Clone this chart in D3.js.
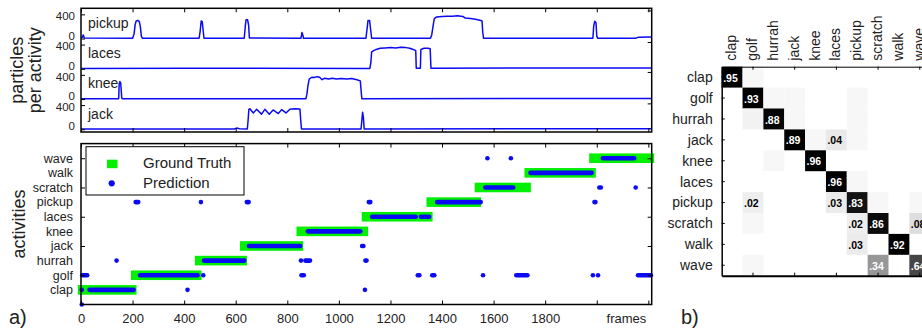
<!DOCTYPE html>
<html>
<head>
<meta charset="utf-8">
<script src="https://cdn.jsdelivr.net/npm/d3@7"></script>
<style>
  body { margin: 0; background: #fff; }
  svg { display: block; font-family: "Liberation Sans", Arial, sans-serif; }
</style>
</head>
<body>
<div id="chart"></div>
<script>
// ---- data ----
const activities = ["clap", "golf", "hurrah", "jack", "knee", "laces", "pickup", "scratch", "walk", "wave"];
const frameTicks = [0, 200, 400, 600, 800, 1000, 1200, 1400, 1600, 1800, 2000, 2200];
const activityTicks = [2, 4, 6, 8, 10];

// ground truth segments (frames), one per activity, in activity order
const gtStart = [7, 213, 461, 636, 855, 1108, 1359, 1546, 1739, 1990];
const gtEnd = [196, 448, 624, 842, 1094, 1344, 1532, 1725, 1977, 2203];

// predicted runs: [activity index (0 = none, 1 = clap ...), first frame, last frame]
const predRuns = [
  [0, 3, 3],
  [1, 3, 3], [1, 33, 204], [1, 413, 413], [1, 1101, 1101],
  [2, 5, 24], [2, 229, 452], [2, 474, 474], [2, 855, 864], [2, 1306, 1312], [2, 1362, 1370],
  [2, 1559, 1559], [2, 1688, 1731], [2, 1985, 1985], [2, 2005, 2005], [2, 2160, 2210],
  [3, 138, 138], [3, 477, 633], [3, 853, 853], [3, 870, 888], [3, 1103, 1107],
  [4, 651, 850], [4, 1090, 1095],
  [5, 880, 1083],
  [6, 1129, 1298], [6, 1318, 1350],
  [7, 212, 222], [7, 465, 465], [7, 643, 650], [7, 1116, 1122], [7, 1381, 1550], [7, 1991, 1995],
  [8, 1568, 1676], [8, 2010, 2016], [8, 2151, 2151],
  [9, 1743, 1980],
  [10, 1576, 1576], [10, 1667, 1667], [10, 2024, 2145]
];

// particles per activity: [frame, particles]
const signalNames = ["pickup", "laces", "knee", "jack"];
const signalBase = [1500, 1000, 500, 0];
const pickupSignal = [[0, 10], [5, 20], [9, 60], [13, 10], [200, 5], [206, 80], [210, 230], [214, 290], [220, 300],
  [226, 280], [230, 200], [234, 40], [238, 5], [458, 5], [462, 120], [466, 290], [470, 280], [474, 120], [477, 5],
  [633, 5], [637, 200], [640, 310], [646, 310], [650, 220], [653, 10], [853, 5], [857, 100], [860, 60], [863, 5],
  [1105, 5], [1109, 150], [1113, 300], [1119, 300], [1123, 150], [1127, 5], [1355, 5], [1360, 60], [1365, 200],
  [1370, 330], [1378, 355], [1400, 365], [1420, 370], [1440, 368], [1460, 375], [1480, 365], [1490, 340],
  [1510, 330], [1530, 320], [1550, 300], [1555, 290], [1558, 100], [1561, 5], [1985, 5], [1988, 200],
  [1992, 285], [1997, 260], [2000, 40], [2003, 5], [2150, 5], [2160, 20], [2213, 25]];
const lacesSignal = [[0, 5], [400, 10], [1120, 5], [1124, 100], [1127, 280], [1135, 300], [1145, 320], [1160, 340],
  [1180, 345], [1200, 350], [1220, 345], [1240, 355], [1260, 350], [1275, 340], [1288, 320], [1298, 300],
  [1300, 10], [1316, 10], [1318, 320], [1330, 340], [1345, 340], [1354, 330], [1357, 10], [2213, 15]];
const kneeSignal = [[0, 5], [146, 5], [148, 240], [151, 290], [154, 260], [158, 20], [160, 5], [872, 5], [876, 80],
  [880, 220], [885, 330], [895, 360], [905, 355], [915, 370], [925, 360], [935, 320], [945, 345], [960, 330],
  [975, 345], [990, 330], [1010, 340], [1030, 330], [1050, 340], [1070, 320], [1083, 300], [1086, 150],
  [1089, 5], [2213, 10]];
const jackSignal = [[0, 5], [595, 5], [603, 20], [615, 10], [645, 5], [648, 150], [651, 330], [655, 340],
  [668, 270], [681, 330], [700, 250], [713, 330], [730, 250], [745, 320], [765, 260], [778, 325], [795, 270],
  [810, 330], [829, 340], [849, 335], [852, 150], [855, 5], [1086, 5], [1089, 150], [1092, 280], [1095, 200],
  [1098, 5], [2213, 10]];
const signals = [pickupSignal, lacesSignal, kneeSignal, jackSignal];
const rightTicks = [428, 948, 1443, 1965];

// confusion matrix, rows = true activity, columns = predicted
const confusion = [
  [.95, .01, 0, 0, 0, 0, 0, 0, 0, 0],
  [0, .93, .01, .01, 0, 0, .01, 0, 0, 0],
  [0, .015, .88, .01, 0, 0, .01, 0, 0, 0],
  [0, 0, 0, .89, .01, .04, .01, 0, 0, 0],
  [0, 0, .01, 0, .96, 0, 0, 0, 0, 0],
  [0, 0, 0, 0, 0, .96, .01, 0, 0, 0],
  [0, .02, 0, 0, 0, .03, .83, .01, 0, .01],
  [0, .01, 0, 0, 0, 0, .02, .86, 0, .08],
  [0, 0, 0, 0, 0, 0, .03, 0, .92, 0],
  [0, .01, 0, 0, 0, 0, 0, .34, 0, .64]
];

// ---- layout ----
const W = 922, H = 328;
const blue = "#0a0af5", green = "#00f000", textColor = "#222";

const svg = d3.select("#chart").append("svg").attr("width", W).attr("height", H);

const x = d3.scaleLinear().domain([0, 2213]).range([81, 651.7]);
const yTop = d3.scaleLinear().domain([-45, 2000]).range([132, 8.3]);
const yAct = d3.scaleLinear().domain([0, 11]).range([304.5, 143.6]);

function styleAxis(g, size) {
  g.select(".domain").remove();
  g.selectAll(".tick line").attr("stroke", "#000").attr("stroke-width", 1);
  g.selectAll("text").attr("fill", textColor).style("font-size", size + "px");
}

function frame(y0, y1) {
  svg.append("rect")
    .attr("x", x.range()[0]).attr("y", y1)
    .attr("width", x.range()[1] - x.range()[0]).attr("height", y0 - y1)
    .attr("fill", "none").attr("stroke", "#000").attr("stroke-width", 1.5);
}

// ---- top panel: particles per activity ----
svg.append("clipPath").attr("id", "clipTop").append("rect")
  .attr("x", x.range()[0]).attr("y", yTop.range()[1])
  .attr("width", x.range()[1] - x.range()[0]).attr("height", yTop.range()[0] - yTop.range()[1]);

const topG = svg.append("g").attr("clip-path", "url(#clipTop)");
signals.forEach((s, i) => {
  const line = d3.line().x(d => x(d[0])).y(d => yTop(d[1] + signalBase[i]));
  topG.append("path").datum(s).attr("d", line)
    .attr("fill", "none").attr("stroke", blue).attr("stroke-width", 1.5)
    .attr("stroke-linejoin", "round");
});

signalNames.forEach((name, i) => {
  svg.append("text")
    .attr("x", x(0) + 7).attr("y", yTop(signalBase[i] + 175))
    .attr("fill", textColor).style("font-size", "14px").text(name);
});

const topLeftTicks = [];
signalBase.forEach(b => { topLeftTicks.push(b, b + 400); });
svg.append("g").attr("transform", `translate(${x.range()[0]},0)`)
  .call(d3.axisLeft(yTop).tickValues(topLeftTicks).tickFormat(v => (v % 500) + "")
    .tickSizeInner(-4).tickSizeOuter(0).tickPadding(6))
  .call(g => styleAxis(g, 11.5))
  // nudge the crowded 0 / 400 labels apart, as in the original
  .call(g => g.selectAll(".tick text").attr("y", v => (v % 500 === 0 ? -3 : 1.5)));
svg.append("g").attr("transform", `translate(${x.range()[1]},0)`)
  .call(d3.axisRight(yTop).tickValues(rightTicks).tickFormat("").tickSizeInner(-4).tickSizeOuter(0))
  .call(g => styleAxis(g, 12));
svg.append("g").attr("transform", `translate(0,${yTop.range()[0]})`)
  .call(d3.axisBottom(x).tickValues(frameTicks).tickFormat("").tickSizeInner(-4).tickSizeOuter(0))
  .call(g => styleAxis(g, 12));
svg.append("g").attr("transform", `translate(0,${yTop.range()[1]})`)
  .call(d3.axisTop(x).tickValues(frameTicks).tickFormat("").tickSizeInner(-4).tickSizeOuter(0))
  .call(g => styleAxis(g, 12));
frame(yTop.range()[0], yTop.range()[1]);

svg.append("text")
  .attr("transform", `translate(23,${(yTop.range()[0] + yTop.range()[1]) / 2}) rotate(-90)`)
  .attr("text-anchor", "middle").attr("fill", textColor).style("font-size", "18px")
  .text("particles");
svg.append("text")
  .attr("transform", `translate(41,${(yTop.range()[0] + yTop.range()[1]) / 2}) rotate(-90)`)
  .attr("text-anchor", "middle").attr("fill", textColor).style("font-size", "18px")
  .text("per activity");

// ---- bottom panel: activities ----
const pad = 5;
svg.append("g").selectAll("rect")
  .data(activities)
  .join("rect")
  .attr("x", (d, i) => x(gtStart[i]) - pad)
  .attr("width", (d, i) => x(gtEnd[i]) - x(gtStart[i]) + 2 * pad)
  .attr("y", (d, i) => yAct(i + 1) - 4.8)
  .attr("height", 9.6)
  .attr("fill", green);

svg.append("g").selectAll("line")
  .data(predRuns)
  .join("line")
  .attr("x1", d => x(d[1])).attr("x2", d => x(d[2]))
  .attr("y1", d => yAct(d[0])).attr("y2", d => yAct(d[0]))
  .attr("stroke", blue).attr("stroke-width", 4.6).attr("stroke-linecap", "round");

svg.append("g").attr("transform", `translate(0,${yAct.range()[0]})`)
  .call(d3.axisBottom(x).tickValues(frameTicks)
    .tickFormat(v => (v <= 1800 ? v : ""))
    .tickSizeInner(-4).tickSizeOuter(0).tickPadding(9))
  .call(g => styleAxis(g, 13));
svg.append("g").attr("transform", `translate(0,${yAct.range()[1]})`)
  .call(d3.axisTop(x).tickValues(frameTicks).tickFormat("").tickSizeInner(-4).tickSizeOuter(0))
  .call(g => styleAxis(g, 13));
svg.append("g").attr("transform", `translate(${x.range()[0]},0)`)
  .call(d3.axisLeft(yAct).tickValues(activityTicks).tickFormat("").tickSizeInner(-4).tickSizeOuter(0))
  .call(g => styleAxis(g, 12));
svg.append("g").attr("transform", `translate(${x.range()[1]},0)`)
  .call(d3.axisRight(yAct).tickValues(activityTicks).tickFormat("").tickSizeInner(-4).tickSizeOuter(0))
  .call(g => styleAxis(g, 12));
frame(yAct.range()[0], yAct.range()[1]);

svg.append("g").selectAll("text")
  .data(activities)
  .join("text")
  .attr("x", x.range()[0] - 8)
  .attr("y", (d, i) => yAct(i + 1))
  .attr("dy", "0.35em")
  .attr("text-anchor", "end")
  .attr("fill", textColor).style("font-size", "12.5px")
  .text(d => d);

svg.append("text")
  .attr("x", x(2115)).attr("y", 323)
  .attr("text-anchor", "middle").attr("fill", textColor).style("font-size", "13px")
  .text("frames");

svg.append("text")
  .attr("transform", `translate(25,${yAct(5.5)}) rotate(-90)`)
  .attr("text-anchor", "middle").attr("fill", textColor).style("font-size", "18px")
  .text("activities");

// legend
const legend = svg.append("g").attr("transform", "translate(86,146.7)");
legend.append("rect").attr("width", 158).attr("height", 48.3)
  .attr("fill", "#fff").attr("stroke", "#000").attr("stroke-width", 1);
legend.append("rect").attr("x", 21).attr("y", 13).attr("width", 10.5).attr("height", 8.5).attr("fill", green);
legend.append("circle").attr("cx", 25.7).attr("cy", 36.6).attr("r", 3.1).attr("fill", blue);
legend.append("text").attr("x", 57).attr("y", 21.6).attr("fill", textColor)
  .style("font-size", "15px").text("Ground Truth");
legend.append("text").attr("x", 57).attr("y", 41.6).attr("fill", textColor)
  .style("font-size", "15px").text("Prediction");

svg.append("text").attr("x", 9).attr("y", 324).attr("fill", textColor)
  .style("font-size", "20px").text("a)");

// ---- confusion matrix ----
const cx = d3.scaleBand().domain(activities).range([721.7, 721.7 + 208.5]);
const cy = d3.scaleBand().domain(activities).range([66.7, 66.7 + 209]);
const gray = d3.scaleLinear().domain([0, 0.02, 0.9]).range(["#ffffff", "#eeeeee", "#000000"]).clamp(true);
const fmt = v => d3.format(".2f")(v).replace(/^0/, "");

const cells = [];
confusion.forEach((row, r) => row.forEach((v, c) => {
  if (v > 0) cells.push({ r: activities[r], c: activities[c], v });
}));

const cm = svg.append("g");
cm.selectAll("rect").data(cells).join("rect")
  .attr("x", d => cx(d.c)).attr("y", d => cy(d.r))
  .attr("width", cx.bandwidth()).attr("height", cy.bandwidth())
  .attr("fill", d => gray(d.v));
cm.selectAll("text").data(cells.filter(d => d.v >= 0.02)).join("text")
  .attr("x", d => cx(d.c) + 1.5).attr("y", d => cy(d.r) + 15)
  .attr("fill", d => (d.v > 0.3 ? "#fff" : "#000"))
  .style("font-size", "10.5px").style("font-weight", "bold")
  .text(d => fmt(d.v));

// matrix axes
const evenCols = activities.filter((d, i) => i % 2 === 1);
svg.append("g").attr("transform", `translate(0,${cy.range()[0]})`)
  .call(d3.axisTop(cx).tickValues(evenCols).tickFormat("").tickSizeInner(-3).tickSizeOuter(0))
  .call(g => g.select(".domain").attr("stroke", "#000").attr("stroke-width", 1))
  .call(g => g.selectAll(".tick line").attr("stroke", "#000"));
svg.append("g").attr("transform", `translate(0,${cy.range()[1]})`)
  .call(d3.axisBottom(cx).tickValues(evenCols).tickFormat("").tickSizeInner(-3).tickSizeOuter(0))
  .call(g => g.select(".domain").attr("stroke", "#000").attr("stroke-width", 2))
  .call(g => g.selectAll(".tick line").attr("stroke", "#000"));
svg.append("g").attr("transform", `translate(${cx.range()[0]},0)`)
  .call(d3.axisLeft(cy).tickFormat("").tickSizeInner(-3).tickSizeOuter(0))
  .call(g => g.select(".domain").attr("stroke", "#000").attr("stroke-width", 1.5))
  .call(g => g.selectAll(".tick line").attr("stroke", "#000"));

svg.append("g").selectAll("text").data(activities).join("text")
  .attr("x", cx.range()[0] - 9)
  .attr("y", d => cy(d) + cy.bandwidth() / 2)
  .attr("dy", "0.35em").attr("text-anchor", "end")
  .attr("fill", textColor).style("font-size", "14px")
  .text(d => d);

svg.append("g").selectAll("text").data(activities).join("text")
  .attr("transform", d => `translate(${cx(d) + cx.bandwidth() / 2 + 4},${cy.range()[0] - 6}) rotate(-90)`)
  .attr("fill", textColor).style("font-size", "14px")
  .text(d => d);

svg.append("text").attr("x", 681).attr("y", 324).attr("fill", textColor)
  .style("font-size", "20px").text("b)");
</script>
</body>
</html>
